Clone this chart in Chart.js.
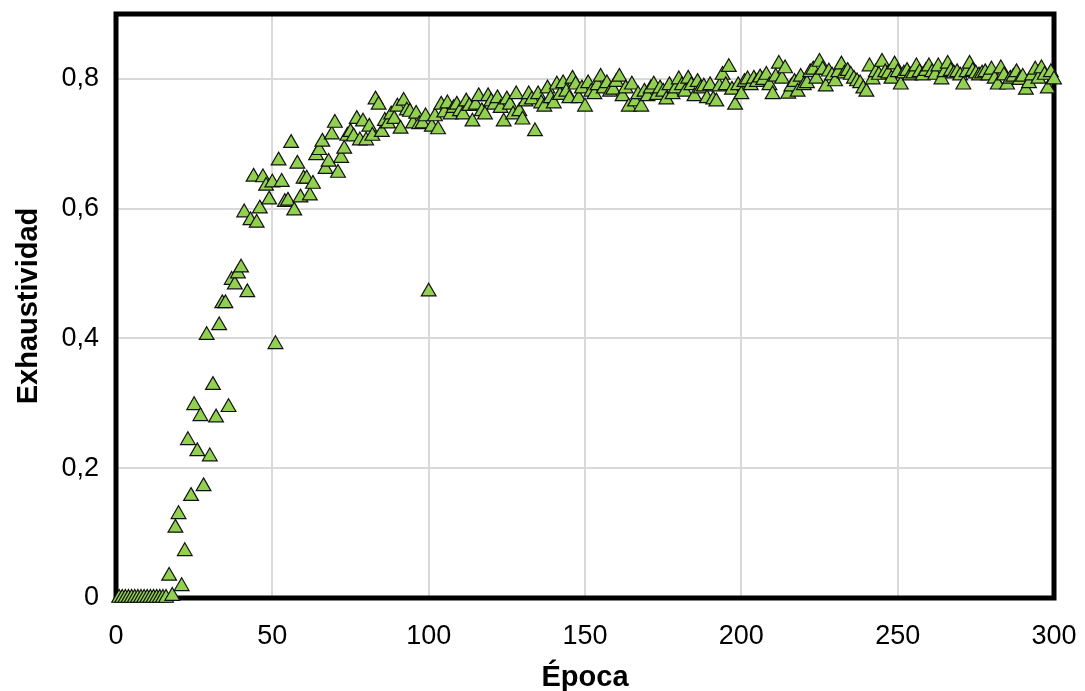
<!DOCTYPE html>
<html>
<head>
<meta charset="utf-8">
<script src="https://cdn.jsdelivr.net/npm/chart.js@4"></script>
<style>
  html, body { margin: 0; padding: 0; background: #fff; }
  #wrap { width: 1085px; height: 691px; }
</style>
</head>
<body>
<div id="wrap"><canvas id="recallChart" width="1085" height="691"></canvas></div>
<script>
// epoch 1..300
const epochs = Array.from({ length: 300 }, (_, i) => i + 1);

const recall = [
  0, 0, 0, 0, 0, 0, 0, 0, 0, 0,
  0, 0, 0, 0, 0, 0, 0.034, 0.003, 0.108, 0.129,
  0.018, 0.072, 0.243, 0.157, 0.297, 0.226, 0.28, 0.172, 0.405, 0.218,
  0.328, 0.278, 0.42, 0.454, 0.454, 0.294, 0.49, 0.483, 0.5, 0.509,
  0.594, 0.471, 0.582, 0.649, 0.578, 0.6, 0.648, 0.635, 0.614, 0.64,
  0.391, 0.674, 0.641, 0.61, 0.612, 0.701, 0.597, 0.669, 0.617, 0.646,
  0.646, 0.62, 0.638, 0.682, 0.69, 0.703, 0.661, 0.672, 0.714, 0.732,
  0.655, 0.678, 0.692, 0.712, 0.718, 0.711, 0.738, 0.705, 0.734, 0.705,
  0.726, 0.712, 0.768, 0.76, 0.718, 0.735, 0.731, 0.745, 0.738, 0.757,
  0.723, 0.766, 0.751, 0.749, 0.731, 0.746, 0.73, 0.731, 0.742, 0.472,
  0.726, 0.742, 0.722, 0.76, 0.748, 0.762, 0.745, 0.755, 0.76, 0.75,
  0.745, 0.765, 0.758, 0.734, 0.76, 0.773, 0.75, 0.745, 0.773, 0.765,
  0.76, 0.77, 0.755, 0.734, 0.768, 0.76, 0.745, 0.776, 0.75, 0.737,
  0.765, 0.776, 0.768, 0.719, 0.776, 0.762, 0.757, 0.785, 0.77, 0.762,
  0.791, 0.775, 0.793, 0.78, 0.77, 0.8, 0.791, 0.77, 0.785, 0.757,
  0.793, 0.78, 0.776, 0.79, 0.803, 0.785, 0.793, 0.78, 0.783, 0.795,
  0.803, 0.773, 0.785, 0.757, 0.791, 0.765, 0.776, 0.757, 0.78, 0.773,
  0.785, 0.791, 0.775, 0.785, 0.78, 0.768, 0.79, 0.776, 0.785, 0.799,
  0.79, 0.78, 0.8, 0.79, 0.773, 0.795, 0.785, 0.788, 0.77, 0.79,
  0.768, 0.765, 0.788, 0.806, 0.79, 0.818, 0.783, 0.76, 0.79, 0.776,
  0.795, 0.799, 0.79, 0.8, 0.795, 0.802, 0.798, 0.806, 0.79, 0.776,
  0.803, 0.823, 0.8, 0.816, 0.777, 0.788, 0.795, 0.78, 0.803, 0.79,
  0.793, 0.81, 0.814, 0.8, 0.826, 0.814, 0.788, 0.811, 0.805, 0.796,
  0.81, 0.822, 0.808, 0.812, 0.806, 0.8, 0.796, 0.793, 0.785, 0.78,
  0.819, 0.799, 0.81, 0.806, 0.826, 0.81, 0.808, 0.8, 0.822, 0.81,
  0.791, 0.808, 0.812, 0.805, 0.808, 0.819, 0.81, 0.805, 0.812, 0.819,
  0.81, 0.806, 0.819, 0.799, 0.81, 0.823, 0.812, 0.808, 0.81, 0.805,
  0.791, 0.81, 0.823, 0.812, 0.808, 0.805, 0.808, 0.81, 0.805, 0.814,
  0.8, 0.791, 0.816, 0.805, 0.791, 0.8, 0.803, 0.81, 0.798, 0.803,
  0.783, 0.793, 0.805, 0.814, 0.8, 0.816, 0.806, 0.785, 0.81, 0.799
];

const xTicks = [0, 50, 100, 150, 200, 250, 300];
const yTicks = [0, 0.2, 0.4, 0.6, 0.8];

// thick black frame round the plot area, under the markers
const framePlugin = {
  id: "frame",
  beforeDatasetsDraw(chart) {
    const { ctx, chartArea: a } = chart;
    ctx.save();
    ctx.strokeStyle = "#000";
    ctx.lineWidth = 5;
    ctx.strokeRect(a.left, a.top, a.right - a.left, a.bottom - a.top);
    ctx.restore();
  },
};

const ctx = document.getElementById("recallChart").getContext("2d");

new Chart(ctx, {
  type: "scatter",
  data: {
    datasets: [
      {
        label: "Exhaustividad",
        data: epochs.map((e, i) => ({ x: e, y: recall[i] })),
        pointStyle: "triangle",
        pointRadius: 8.5,
        pointHoverRadius: 8.5,
        backgroundColor: "#92D050",
        borderColor: "#111",
        borderWidth: 1.2,
      },
    ],
  },
  options: {
    responsive: false,
    animation: false,
    clip: false,
    layout: { padding: { top: 14, right: 31, left: 0, bottom: 0 } },
    plugins: {
      legend: { display: false },
      tooltip: { enabled: false },
    },
    scales: {
      x: {
        type: "linear",
        min: 0,
        max: 300,
        afterBuildTicks: (s) => { s.ticks = xTicks.map((v) => ({ value: v })); },
        afterFit: (s) => { s.height = 93; s.paddingLeft = 0; s.paddingRight = 0; },
        grid: { color: "#d9d9d9", lineWidth: 2, drawTicks: false },
        border: { display: false },
        ticks: {
          padding: 22,
          color: "#000",
          font: { family: "Liberation Sans", size: 27 },
        },
        title: {
          display: true,
          text: "Época",
          color: "#000",
          font: { family: "Liberation Sans", size: 29, weight: "bold", lineHeight: 1 },
          padding: { top: 0, bottom: -1 },
        },
      },
      y: {
        type: "linear",
        min: 0,
        max: 0.9,
        afterBuildTicks: (s) => { s.ticks = yTicks.map((v) => ({ value: v })); },
        afterFit: (s) => { s.width = 116; s.paddingTop = 0; s.paddingBottom = 0; },
        grid: { color: "#d9d9d9", lineWidth: 2, drawTicks: false },
        border: { display: false },
        ticks: {
          padding: 17,
          color: "#000",
          font: { family: "Liberation Sans", size: 27 },
          callback: (v) => String(Number(v.toFixed(1))).replace(".", ","),
        },
        title: {
          display: true,
          text: "Exhaustividad",
          color: "#000",
          font: { family: "Liberation Sans", size: 29, weight: "bold" },
          padding: { top: 12, bottom: 4 },
        },
      },
    },
  },
  plugins: [framePlugin],
});
</script>
</body>
</html>
